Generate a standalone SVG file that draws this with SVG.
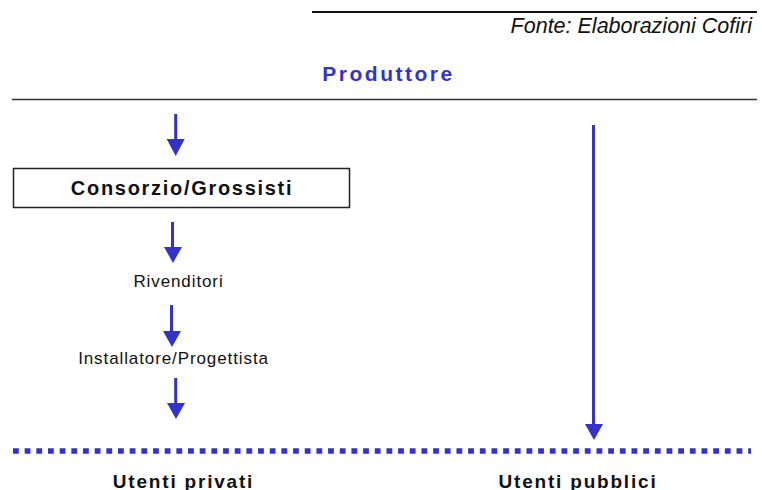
<svg xmlns="http://www.w3.org/2000/svg" width="762" height="490" viewBox="0 0 762 490">
<defs>
<style>
.arrow{stroke:#3333cc;stroke-width:3;fill:none}
.head{fill:#3333cc}
.bold{font-family:"Liberation Sans",Arial,sans-serif;font-weight:bold;fill:#111}
.reg{font-family:"Liberation Sans",Arial,sans-serif;fill:#111;font-size:17px;letter-spacing:0.9px}
</style>
</defs>
<rect width="762" height="490" fill="#ffffff"/>
<line x1="312" y1="12" x2="757" y2="12" stroke="#111" stroke-width="2"/>
<text x="752" y="33" text-anchor="end" font-family="'Liberation Sans',Arial,sans-serif" font-style="italic" font-size="21.5" fill="#111">Fonte: Elaborazioni Cofiri</text>
<g id="produttore">
<text x="388.5" y="80.5" text-anchor="middle" class="bold" style="fill:#3333cc;font-size:21px;letter-spacing:2.5px">Produttore</text>
<line x1="12" y1="99.5" x2="757" y2="99.5" stroke="#333" stroke-width="1.6"/>
</g>
<g id="consorzio">
<rect x="13.5" y="168.5" width="336" height="39" fill="#fff" stroke="#222" stroke-width="1.5"/>
<text x="182" y="195" text-anchor="middle" class="bold" style="font-size:20px;letter-spacing:1.7px">Consorzio/Grossisti</text>
</g>
<g id="rivenditori">
<text x="178.5" y="287" text-anchor="middle" class="reg">Rivenditori</text>
</g>
<g id="installatore">
<text x="173.5" y="364" text-anchor="middle" class="reg">Installatore/Progettista</text>
</g>
<g id="utenti">
<line x1="13" y1="451" x2="751" y2="451" stroke="#3333cc" stroke-width="5.5" stroke-dasharray="5.8 5.87"/>
</g>
<g id="utenti-privati">
<text x="183.5" y="488" text-anchor="middle" class="bold" style="font-size:19px;letter-spacing:1.8px">Utenti privati</text>
</g>
<g id="utenti-pubblici">
<text x="578" y="488" text-anchor="middle" class="bold" style="font-size:19px;letter-spacing:1.8px">Utenti pubblici</text>
</g>
<g id="connectors">
<line class="arrow" x1="175.7" y1="114" x2="175.7" y2="141"/>
<polygon class="head" points="166.7,139 184.7,139 175.7,156"/>
<line class="arrow" x1="172.5" y1="222" x2="172.5" y2="249"/>
<polygon class="head" points="164,247 182,247 173,263"/>
<line class="arrow" x1="171.5" y1="305" x2="171.5" y2="333"/>
<polygon class="head" points="163,331 181,331 172,347"/>
<line class="arrow" x1="175.7" y1="378" x2="175.7" y2="405"/>
<polygon class="head" points="167,403 185,403 176,419"/>
<line class="arrow" x1="593.5" y1="125" x2="593.5" y2="426"/>
<polygon class="head" points="585,424 603,424 594,440"/>
</g>
</svg>
